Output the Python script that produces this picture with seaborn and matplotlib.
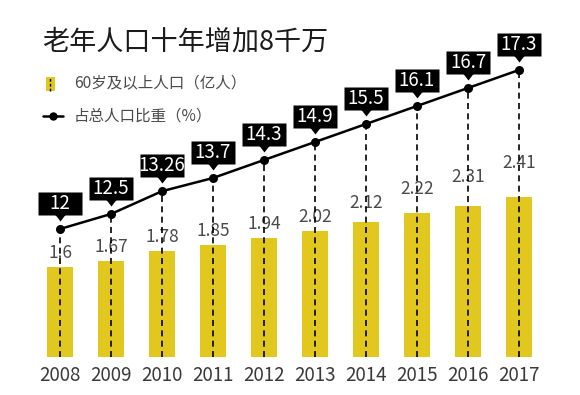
import numpy as np
import pandas as pd
import seaborn as sns
import matplotlib
matplotlib.use("Agg")
import matplotlib.pyplot as plt
from matplotlib.path import Path
from matplotlib.markers import MarkerStyle
from matplotlib.patches import Rectangle
from matplotlib.lines import Line2D

# ---- data ----
years = ["2008", "2009", "2010", "2011", "2012", "2013", "2014", "2015", "2016", "2017"]
elderly = [1.6, 1.67, 1.78, 1.85, 1.94, 2.02, 2.12, 2.22, 2.31, 2.41]          # 亿人
share = [12, 12.5, 13.26, 13.7, 14.3, 14.9, 15.5, 16.1, 16.7, 17.3]            # %
share_labels = ["12", "12.5", "13.26", "13.7", "14.3", "14.9", "15.5", "16.1", "16.7", "17.3"]
title = "老年人口十年增加8千万"
legend_bar = "60岁及以上人口（亿人）"
legend_line = "占总人口比重（%）"

sns.set_theme(style="white")
plt.rcParams['font.family'] = ['Noto Sans CJK SC', 'DejaVu Sans']

W, H = 580, 395
fig = plt.figure(figsize=(W / 100, H / 100), dpi=100)
fig.patch.set_facecolor("white")

def fx(px):
    return px / W

def fy(py):
    return 1 - py / H

ax_left, ax_right, ax_top, ax_bottom = 34.5, 544.5, 40, 357
ax = fig.add_axes([fx(ax_left), fy(ax_bottom), fx(ax_right - ax_left), (ax_bottom - ax_top) / H])

BAR = "#E2C71E"
df = pd.DataFrame({"year": years, "elderly": elderly, "share": share})
sns.barplot(data=df, x="year", y="elderly", color=BAR, width=0.51, ax=ax,
            saturation=1, edgecolor="none")
ax.set_xlim(-0.5, len(years) - 0.5)
ax.set_ylim(0.558, 0.558 + (ax_bottom - ax_top) / 86.4)
for s in ax.spines.values():
    s.set_visible(False)
ax.set_yticks([])
ax.set_xlabel("")
ax.set_ylabel("")
ax.tick_params(axis="x", length=0, pad=6, labelsize=13.5, labelcolor="#3a3a3a")
ax.set_facecolor("none")

# bar value labels
for i, v in enumerate(elderly):
    pad_px = 14 + max(0.0, v - 2.02) * 50
    ax.annotate(f"{v:g}", (i, v), xytext=(0, pad_px * 0.72), textcoords="offset points",
                ha="center", va="center", fontsize=12.5, color="#4a4a4a",
                fontweight="light", zorder=3)

# line on twin axis
ax2 = ax.twinx()
ax2.set_ylim(7.733, 7.733 + (ax_bottom - ax_top) / 30.0)
ax2.set_xlim(-0.5, len(years) - 0.5)
for s in ax2.spines.values():
    s.set_visible(False)
ax2.set_yticks([])
ax2.set_ylabel("")

xs = np.arange(len(years))
ylo = ax2.get_ylim()[0]
ax2.vlines(xs, ylo, share, colors="black", linestyles=(0, (3.6, 2.6)), linewidth=1.2, zorder=2)
sns.lineplot(x=xs, y=share, ax=ax2, color="black", linewidth=1.8, marker="o",
             markersize=6.5, markeredgewidth=0, zorder=4)

# callout boxes (box + pointer) as a custom marker anchored at the point
box = Path([(-22, 14), (22, 14), (22, 37), (-22, 37), (-22, 14)],
           [Path.MOVETO, Path.LINETO, Path.LINETO, Path.LINETO, Path.CLOSEPOLY])
tri = Path([(-5, 14.5), (0, 8), (5, 14.5), (-5, 14.5)],
           [Path.MOVETO, Path.LINETO, Path.LINETO, Path.CLOSEPOLY])
callout = Path.make_compound_path(box, tri)
ms = 0.72 * 37 / 0.5
ax2.plot(xs, share, linestyle="none", marker=MarkerStyle(callout), markersize=ms,
         markerfacecolor="black", markeredgewidth=0, color="black", zorder=5, clip_on=False)
for i, (v, lab) in enumerate(zip(share, share_labels)):
    ax2.annotate(lab, (i, v), xytext=(0, 25.5 * 0.72), textcoords="offset points",
                 ha="center", va="center", fontsize=13.5, color="white", zorder=6,
                 annotation_clip=False)

# title
fig.text(fx(42), fy(42), title, fontsize=19.5, color="#1b1b1b", ha="left", va="center")

# legend
fig.patches.append(Rectangle((fx(46), fy(91)), fx(9), (91 - 77) / H,
                             transform=fig.transFigure, facecolor=BAR, edgecolor="none"))
fig.lines.append(Line2D([fx(50.5), fx(50.5)], [fy(91), fy(77)], transform=fig.transFigure,
                        color="black", linewidth=1.0, linestyle=(0, (2, 1.5))))
fig.text(fx(74), fy(84), legend_bar, fontsize=11.2, color="#4a4a4a", ha="left", va="center")
fig.lines.append(Line2D([fx(43), fx(63)], [fy(116), fy(116)], transform=fig.transFigure,
                        color="black", linewidth=1.8))
fig.lines.append(Line2D([fx(53)], [fy(116)], transform=fig.transFigure, color="black",
                        marker="o", markersize=6, markeredgewidth=0))
fig.text(fx(74), fy(116), legend_line, fontsize=11.2, color="#4a4a4a", ha="left", va="center")

fig.savefig("out.png", dpi=100, facecolor="white")
